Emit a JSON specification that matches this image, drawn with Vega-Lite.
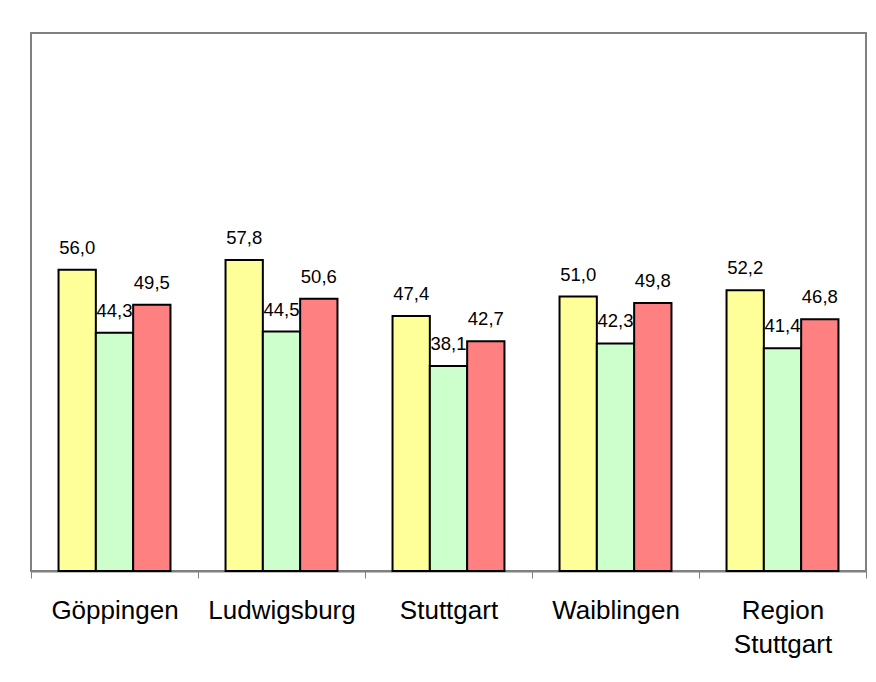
{
  "$schema": "https://vega.github.io/schema/vega-lite/v6.json",
  "autosize": "none",
  "width": 835,
  "height": 538,
  "padding": {"left": 31, "top": 33, "right": 10, "bottom": 111},
  "background": "white",
  "config": {
    "font": "Liberation Sans",
    "locale": {"number": {"decimal": ",", "thousands": ".", "grouping": [3], "currency": ["", " €"]}},
    "view": {"stroke": "#808080", "strokeWidth": 2}
  },
  "data": {
    "values": [
      {"ort": "Göppingen", "reihe": "Reihe 1", "wert": 56.0},
      {"ort": "Göppingen", "reihe": "Reihe 2", "wert": 44.3},
      {"ort": "Göppingen", "reihe": "Reihe 3", "wert": 49.5},
      {"ort": "Ludwigsburg", "reihe": "Reihe 1", "wert": 57.8},
      {"ort": "Ludwigsburg", "reihe": "Reihe 2", "wert": 44.5},
      {"ort": "Ludwigsburg", "reihe": "Reihe 3", "wert": 50.6},
      {"ort": "Stuttgart", "reihe": "Reihe 1", "wert": 47.4},
      {"ort": "Stuttgart", "reihe": "Reihe 2", "wert": 38.1},
      {"ort": "Stuttgart", "reihe": "Reihe 3", "wert": 42.7},
      {"ort": "Waiblingen", "reihe": "Reihe 1", "wert": 51.0},
      {"ort": "Waiblingen", "reihe": "Reihe 2", "wert": 42.3},
      {"ort": "Waiblingen", "reihe": "Reihe 3", "wert": 49.8},
      {"ort": "Region Stuttgart", "reihe": "Reihe 1", "wert": 52.2},
      {"ort": "Region Stuttgart", "reihe": "Reihe 2", "wert": 41.4},
      {"ort": "Region Stuttgart", "reihe": "Reihe 3", "wert": 46.8}
    ]
  },
  "encoding": {
    "x": {
      "field": "ort",
      "type": "nominal",
      "sort": null,
      "scale": {"paddingInner": 0, "paddingOuter": 0},
      "axis": {
        "title": null,
        "labelAngle": 0,
        "labelFontSize": 26,
        "labelColor": "black",
        "labelBaseline": "alphabetic",
        "labelPadding": 40,
        "labelLineHeight": 34,
        "labelExpr": "datum.value == 'Region Stuttgart' ? ['Region', 'Stuttgart'] : datum.label",
        "tickBand": "extent",
        "tickSize": 7,
        "tickColor": "#808080",
        "tickWidth": 1,
        "domainColor": "#808080",
        "domainWidth": 2,
        "labelLimit": 300
      }
    },
    "xOffset": {"field": "reihe", "type": "nominal", "scale": {"paddingInner": 0, "paddingOuter": 0.738}},
    "y": {"field": "wert", "type": "quantitative", "scale": {"domain": [0, 100], "nice": false}, "axis": null}
  },
  "layer": [
    {
      "mark": {"type": "bar", "stroke": "black", "strokeWidth": 2},
      "encoding": {
        "color": {
          "field": "reihe",
          "type": "nominal",
          "scale": {"domain": ["Reihe 1", "Reihe 2", "Reihe 3"], "range": ["#FFFF99", "#CCFFCC", "#FF8080"]},
          "legend": null
        }
      }
    },
    {
      "mark": {"type": "text", "fontSize": 18.5, "baseline": "alphabetic", "dy": -16, "color": "black"},
      "encoding": {
        "text": {"field": "wert", "type": "quantitative", "format": ".1f"}
      }
    }
  ]
}
